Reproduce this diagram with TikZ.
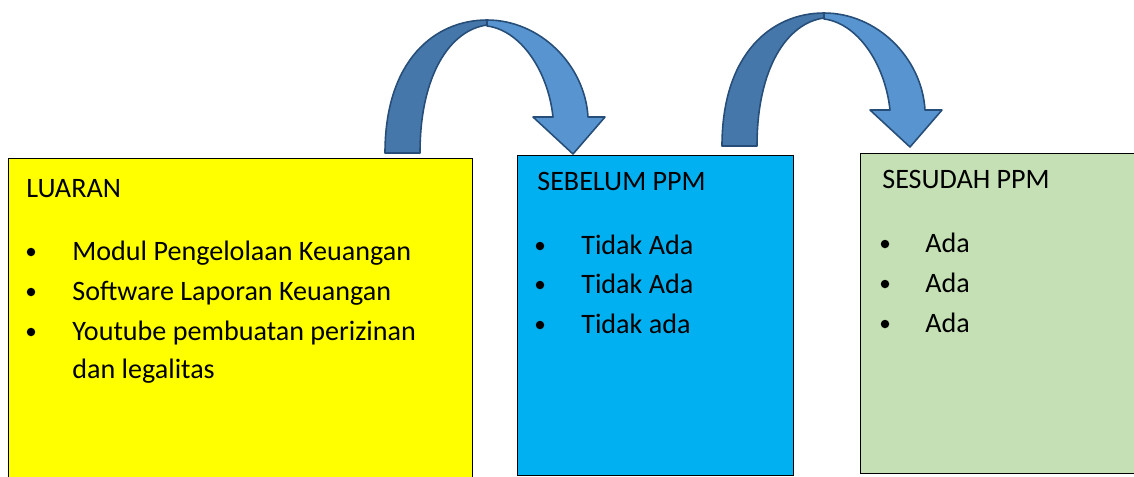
\documentclass[tikz,border=0pt]{standalone}
\usepackage{fontspec}
\setmainfont{Carlito}
\usetikzlibrary{positioning}
\definecolor{boxyellow}{HTML}{FFFF00}
\definecolor{boxblue}{HTML}{00B0F0}
\definecolor{boxgreen}{HTML}{C5E0B4}
\definecolor{arrdark}{HTML}{4677AA}
\definecolor{arrlight}{HTML}{5895D0}
\definecolor{arrline}{HTML}{264E78}

\tikzset{
  box/.style={draw=black, line width=0.8pt, rectangle, anchor=north west, inner sep=0pt},
  txt/.style={anchor=base west, inner sep=0pt, font=\fontsize{16}{19}\selectfont},
  dot/.style={circle, fill=black, inner sep=0pt, minimum size=0.17cm},
  pics/bendarrow/.style={code={
    \filldraw[fill=arrdark, draw=arrline, line width=0.9pt, line join=round]
      (0,0) .. controls (0,-93) and (50,-133) .. (102,-133)
      -- (102,-128) .. controls (65,-123) and (35,-78) .. (35,0) -- cycle;
    \filldraw[fill=arrlight, draw=arrline, line width=0.9pt, line join=round]
      (102,-133) .. controls (155,-133) and (200,-88) .. (203,-36)
      -- (220,-36) -- (188,1) -- (148,-36) -- (168,-36)
      .. controls (163,-83) and (135,-123) .. (102,-127) -- cycle;
  }}
}

\begin{document}
\begin{tikzpicture}[x=0.02cm, y=-0.02cm]
\useasboundingbox (0,0) rectangle (1134,477);
% Boxes
\node[box, fill=boxyellow, minimum width=9.28cm, minimum height=6.4cm] (luaranbox) at (8,158) {};
\node[box, fill=boxblue, minimum width=5.52cm, minimum height=6.4cm] (sebelumbox) at (517,155) {};
\node[box, fill=boxgreen, minimum width=5.6cm, minimum height=6.4cm] (sesudahbox) at (860,153) {};

% Curved arrows
\pic at (385,153) {bendarrow};
\pic at (722,146) {bendarrow};

% LUARAN
\node[txt] (luaran) at (26,197) {LUARAN};
\foreach \y [count=\i] in {252,292,332}
  \node[dot] (ldot\i) at (31,\y) {};
\node[txt] (modul) at (72,260) {Modul Pengelolaan Keuangan};
\node[txt] (software) at (72,300) {Software Laporan Keuangan};
\node[txt] (youtube) at (72,340) {Youtube pembuatan perizinan};
\node[txt] (legal) at (72,378) {dan legalitas};

% SEBELUM PPM
\node[txt] (sebelum) at (537,190) {SEBELUM PPM};
\foreach \y [count=\i] in {246,285,325}
  \node[dot] (bdot\i) at (540,\y) {};
\node[txt] (tidak1) at (581,254) {Tidak Ada};
\node[txt] (tidak2) at (581,293) {Tidak Ada};
\node[txt] (tidak3) at (581,333) {Tidak ada};

% SESUDAH PPM
\node[txt] (sesudah) at (882,188) {SESUDAH PPM};
\foreach \y [count=\i] in {244,284,324}
  \node[dot] (gdot\i) at (885,\y) {};
\node[txt] (ada1) at (925,252) {Ada};
\node[txt] (ada2) at (925,292) {Ada};
\node[txt] (ada3) at (925,332) {Ada};
\end{tikzpicture}
\end{document}
